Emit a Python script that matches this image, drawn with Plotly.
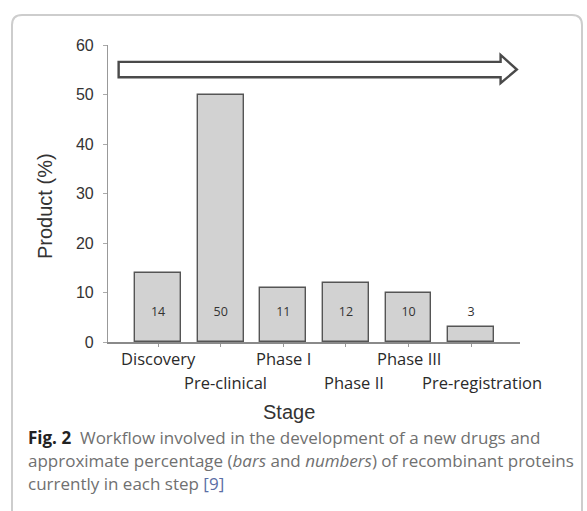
import plotly.graph_objects as go

# ---- data ----
stages = ["Discovery", "Pre-clinical", "Phase I", "Phase II", "Phase III", "Pre-registration"]
product_pct = [14, 50, 11, 12, 10, 3]
y_ticks = [0, 10, 20, 30, 40, 50, 60]

W, H = 587, 511
L, R, T, B = 108, 67, 45, 169
PW, PH = W - L - R, H - T - B

def px(x):
    return (x - L) / PW

def py(y):
    return (H - B - y) / PH

xpos = list(range(len(stages)))

fig = go.Figure()
fig.add_trace(go.Bar(
    x=xpos, y=product_pct, width=0.73,
    marker=dict(color="#d2d2d2", line=dict(color="#555", width=1.4)),
    hoverinfo="skip", showlegend=False,
))
# in-bar numbers at a fixed height
fig.add_trace(go.Scatter(
    x=xpos, y=[5.8] * len(xpos), mode="text",
    text=[str(v) for v in product_pct],
    textfont=dict(family="Open Sans", size=12.5, color="#333"),
    hoverinfo="skip", showlegend=False,
))

annotations = []
xshifts = [0, 5, 0, 8, 0, 11]
for i, s in enumerate(stages):
    row = i % 2
    annotations.append(dict(
        x=i, xref="x", y=0, yref="paper", text=s, showarrow=False,
        xanchor="center", yanchor="middle", xshift=xshifts[i],
        yshift=-16 if row == 0 else -40,
        font=dict(family="Open Sans", size=16.5, color="#2a2a2a"),
    ))
annotations.append(dict(
    x=px(289), xref="paper", y=0, yref="paper", yshift=-70, text="Stage",
    showarrow=False, xanchor="center", yanchor="middle",
    font=dict(family="Arial, Liberation Sans", size=20, color="#333"),
))
annotations.append(dict(
    x=0, xref="paper", xshift=-63, y=py(206), yref="paper", text="Product (%)",
    textangle=-90, showarrow=False, xanchor="center", yanchor="middle",
    font=dict(family="Arial, Liberation Sans", size=20, color="#333"),
))
cap_font = dict(family="Open Sans", size=17, color="#707070")
cap_lines = [
    "<b><span style='color:#222'>Fig. 2</span></b>  Workflow involved in the development of a new drugs and",
    "approximate percentage (<i>bars</i> and <i>numbers</i>) of recombinant proteins",
    "currently in each step <span style='color:#5b6ea5'>[9]</span>",
]
for k, line in enumerate(cap_lines):
    annotations.append(dict(
        x=px(26), xref="paper", y=py(437 + 23 * k), yref="paper", text=line,
        showarrow=False, xanchor="left", yanchor="middle", font=cap_font,
    ))

# hollow arrow (workflow direction), in data coordinates
ax0, axh, axt = -0.63, 5.47, 5.73
st, sb, ht, hb, hm = 56.6, 53.5, 58.0, 52.3, 55.05
arrow_path = (f"M {ax0},{st} L {axh},{st} L {axh},{ht} L {axt},{hm} "
              f"L {axh},{hb} L {axh},{sb} L {ax0},{sb} Z")
# rounded frame
x0, x1, y0, y1, r = px(12), px(582), py(15), py(530), 10
rx, ry = r / PW, r / PH
frame_path = (f"M {x0},{y1} L {x0},{y0 - ry} Q {x0},{y0} {x0 + rx},{y0} "
              f"L {x1 - rx},{y0} Q {x1},{y0} {x1},{y0 - ry} L {x1},{y1}")
shapes = [
    dict(type="path", xref="paper", yref="paper", path=frame_path,
         line=dict(color="#cdcdcd", width=2), layer="below"),
    dict(type="path", xref="x", yref="y", path=arrow_path,
         line=dict(color="#4a4a4a", width=2.4), fillcolor="white"),
]

fig.update_layout(
    width=W, height=H, margin=dict(l=L, r=R, t=T, b=B),
    paper_bgcolor="white", plot_bgcolor="white",
    annotations=annotations, shapes=shapes, bargap=0,
    xaxis=dict(range=[-0.80, 5.78], tickvals=xpos, ticktext=[""] * len(xpos),
               showline=True, linecolor="#8a8a8a", linewidth=1.5,
               ticks="outside", ticklen=3, tickcolor="#999",
               showgrid=False, zeroline=False, fixedrange=True),
    yaxis=dict(range=[0, 60], tickvals=y_ticks, showline=True,
               linecolor="#999", linewidth=1.2, ticks="outside", ticklen=4,
               tickcolor="#aaa", showgrid=False, zeroline=False,
               ticklabelstandoff=6,
               tickfont=dict(family="Arial, Liberation Sans", size=16, color="#333")),
)

fig.write_html("out.html")
